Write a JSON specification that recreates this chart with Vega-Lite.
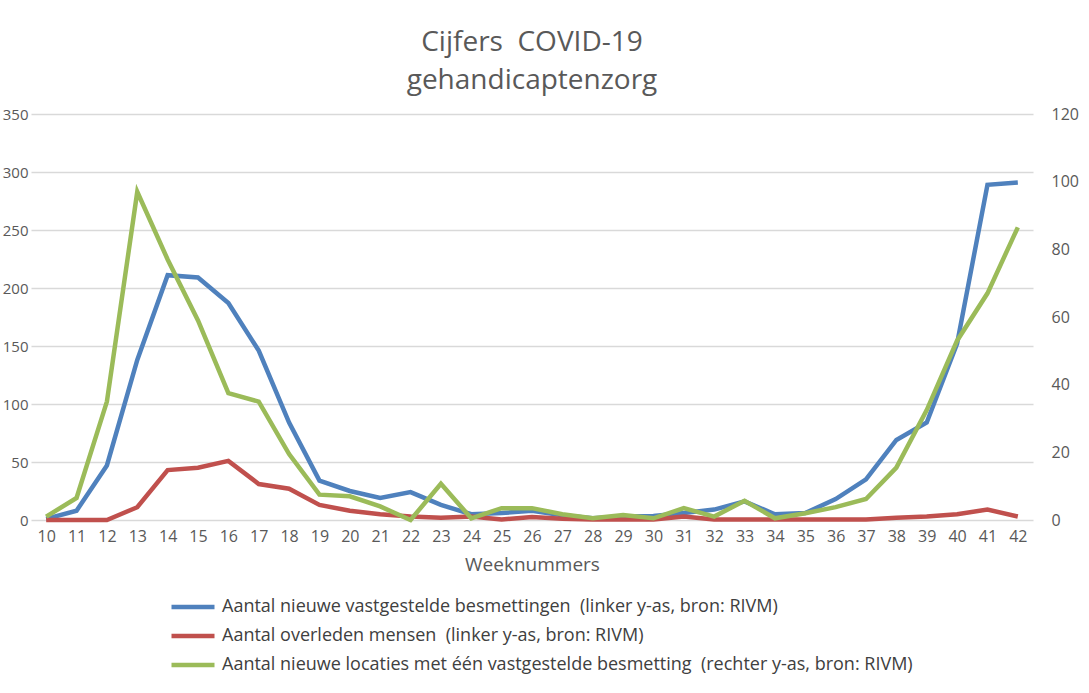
{
  "$schema": "https://vega.github.io/schema/vega-lite/v6.json",
  "autosize": "none",
  "padding": {"left": 31, "top": 114, "right": 56, "bottom": 173},
  "width": 1002,
  "height": 406,
  "background": "white",
  "config": {
    "font": "Open Sans",
    "view": {"stroke": null},
    "axis": {"labelColor": "#595959", "titleColor": "#595959", "labelFont": "Open Sans", "titleFont": "Open Sans"}
  },
  "title": {
    "text": ["Cijfers\u00a0 COVID-19", "gehandicaptenzorg"],
    "anchor": "middle",
    "frame": "group",
    "fontSize": 28,
    "fontWeight": "normal",
    "color": "#595959",
    "lineHeight": 38,
    "offset": 11
  },
  "data": {
    "values": [
      {"week": 10, "besmettingen": 1, "overleden": 0, "locaties": 1},
      {"week": 11, "besmettingen": 8, "overleden": 0, "locaties": 6.5},
      {"week": 12, "besmettingen": 47, "overleden": 0, "locaties": 35},
      {"week": 13, "besmettingen": 138, "overleden": 11, "locaties": 97},
      {"week": 14, "besmettingen": 211, "overleden": 43, "locaties": 77},
      {"week": 15, "besmettingen": 209, "overleden": 45, "locaties": 59},
      {"week": 16, "besmettingen": 187, "overleden": 51, "locaties": 37.5},
      {"week": 17, "besmettingen": 146, "overleden": 31, "locaties": 35},
      {"week": 18, "besmettingen": 84, "overleden": 27, "locaties": 19.5},
      {"week": 19, "besmettingen": 34, "overleden": 13, "locaties": 7.5},
      {"week": 20, "besmettingen": 25, "overleden": 8, "locaties": 7},
      {"week": 21, "besmettingen": 19, "overleden": 5, "locaties": 4},
      {"week": 22, "besmettingen": 24, "overleden": 3, "locaties": 0},
      {"week": 23, "besmettingen": 13, "overleden": 2, "locaties": 10.7},
      {"week": 24, "besmettingen": 5, "overleden": 3, "locaties": 0.5},
      {"week": 25, "besmettingen": 6, "overleden": 0.5, "locaties": 3.5},
      {"week": 26, "besmettingen": 8, "overleden": 2.5, "locaties": 3.5},
      {"week": 27, "besmettingen": 4, "overleden": 1, "locaties": 1.7},
      {"week": 28, "besmettingen": 1.5, "overleden": 0.5, "locaties": 0.5},
      {"week": 29, "besmettingen": 3, "overleden": 0.5, "locaties": 1.5},
      {"week": 30, "besmettingen": 3.5, "overleden": 0.5, "locaties": 0.5},
      {"week": 31, "besmettingen": 6, "overleden": 3, "locaties": 3.5},
      {"week": 32, "besmettingen": 9, "overleden": 0.5, "locaties": 1},
      {"week": 33, "besmettingen": 16, "overleden": 0.5, "locaties": 5.7},
      {"week": 34, "besmettingen": 5, "overleden": 0.5, "locaties": 0.5},
      {"week": 35, "besmettingen": 6, "overleden": 0.5, "locaties": 2},
      {"week": 36, "besmettingen": 18, "overleden": 0.5, "locaties": 3.8},
      {"week": 37, "besmettingen": 35, "overleden": 0.5, "locaties": 6.2},
      {"week": 38, "besmettingen": 69, "overleden": 2, "locaties": 15.5},
      {"week": 39, "besmettingen": 84, "overleden": 3, "locaties": 32.5},
      {"week": 40, "besmettingen": 152, "overleden": 5, "locaties": 53},
      {"week": 41, "besmettingen": 289, "overleden": 9, "locaties": 67},
      {"week": 42, "besmettingen": 291, "overleden": 3, "locaties": 86.5}
    ]
  },
  "encoding": {
    "x": {
      "field": "week",
      "type": "ordinal",
      "scale": {"type": "point", "padding": 0.5},
      "axis": {
        "title": "Weeknummers",
        "labelAngle": 0,
        "labelFontSize": 16,
        "labelPadding": 8,
        "titleFontSize": 19,
        "titleFontWeight": "normal",
        "titlePadding": 11,
        "domain": false,
        "ticks": false,
        "grid": false
      }
    }
  },
  "layer": [
    {
      "transform": [{"fold": ["besmettingen", "overleden"], "as": ["serie", "waarde"]}],
      "mark": {"type": "line", "strokeWidth": 4.5, "strokeJoin": "miter"},
      "encoding": {
        "y": {
          "field": "waarde",
          "type": "quantitative",
          "scale": {"domain": [0, 350], "nice": false},
          "axis": {
            "title": null,
            "values": [0, 50, 100, 150, 200, 250, 300, 350],
            "labelFontSize": 15,
            "labelPadding": 3,
            "domain": false,
            "ticks": false,
            "grid": true,
            "gridColor": "#d9d9d9",
            "gridWidth": 1.5
          }
        },
        "color": {
          "field": "serie",
          "type": "nominal",
          "scale": {"domain": ["besmettingen", "overleden", "locaties"], "range": ["#4F81BD", "#C0504D", "#9BBB59"]},
          "legend": {
            "title": null,
            "orient": "none",
            "legendX": 153,
            "legendY": 484,
            "direction": "vertical",
            "symbolType": "M-3.4,0H3.4",
            "symbolSize": 160,
            "symbolStrokeWidth": 4.5,
            "rowPadding": 11,
            "labelFontSize": 18,
            "labelColor": "#404040",
            "labelOffset": 20,
            "labelLimit": 900,
            "labelExpr": "datum.value == 'besmettingen' ? 'Aantal nieuwe vastgestelde besmettingen\u00a0 (linker y-as, bron: RIVM)' : datum.value == 'overleden' ? 'Aantal overleden mensen\u00a0 (linker y-as, bron: RIVM)' : 'Aantal nieuwe locaties met één vastgestelde besmetting\u00a0 (rechter y-as, bron: RIVM)'"
          }
        }
      }
    },
    {
      "transform": [{"fold": ["locaties"], "as": ["serie", "waarde"]}],
      "mark": {"type": "line", "strokeWidth": 4.5, "strokeJoin": "miter"},
      "encoding": {
        "y": {
          "field": "waarde",
          "type": "quantitative",
          "scale": {"domain": [0, 120], "nice": false},
          "axis": {
            "title": null,
            "orient": "right",
            "values": [0, 20, 40, 60, 80, 100, 120],
            "labelFontSize": 16,
            "labelPadding": 18,
            "domain": false,
            "ticks": false,
            "grid": false
          }
        },
        "color": {"field": "serie", "type": "nominal"}
      }
    }
  ],
  "resolve": {"scale": {"y": "independent"}}
}
